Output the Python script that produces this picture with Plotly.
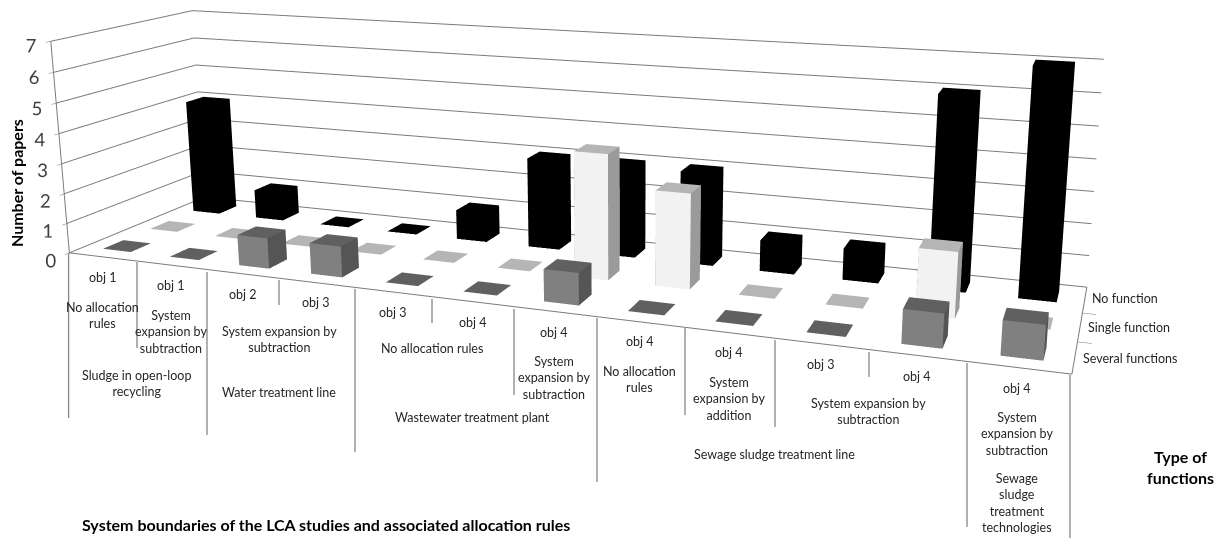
import plotly.graph_objects as go

categories = ["obj 1","obj 1","obj 2","obj 3","obj 3","obj 4","obj 4","obj 4","obj 4","obj 3","obj 4","obj 4"]
allocation_rules = ["No allocation<br>rules","System<br>expansion by<br>subtraction","System expansion by<br>subtraction","No allocation rules",
                    "System<br>expansion by<br>subtraction","No allocation<br>rules","System<br>expansion by<br>addition",
                    "System expansion by<br>subtraction","System<br>expansion by<br>subtraction"]
boundaries = ["Sludge in open-loop<br>recycling","Water treatment line","Wastewater treatment plant","Sewage sludge treatment line",
              "Sewage<br>sludge<br>treatment<br>technologies"]
series_names = ["Several functions","Single function","No function"]
z_ticks = [0,1,2,3,4,5,6,7]
several = [0,0,1,1,0,0,1,0,0,0,1,1]
single  = [0,0,0,0,0,0,4,3,0,0,2,0]
none_f  = [4,1,0,0,1,3,3,3,1,1,6,7]

W,HF,OFF,S=1206,1240,8,478
def yp(py): return 1-(py-OFF+S)/HF
def xp(px): return (px-OFF)/W

BW,BD=0.42,0.42
def add_bars(fig,vals,yc,front,top,side):
    xs,ys,zs,I,J,K,fc=[],[],[],[],[],[],[]
    for i,v in enumerate(vals):
        x0,x1=i+.5-BW/2,i+.5+BW/2
        y0,y1=yc-BD/2,yc+BD/2
        z1=max(v,0.01)
        n=len(xs)
        for zz in (0,z1):
            for xx,yy in ((x0,y0),(x1,y0),(x1,y1),(x0,y1)):
                xs.append(xx);ys.append(yy);zs.append(zz)
        quads=[((0,1,5,4),front),((1,2,6,5),side),((4,5,6,7),top),((3,0,4,7),side),((2,3,7,6),front)]
        for (a,b,c,d),col in quads:
            if v==0 and col is not top: continue
            I+=[n+a,n+a];J+=[n+b,n+c];K+=[n+c,n+d];fc+=[col,col]
    fig.add_trace(go.Mesh3d(x=xs,y=ys,z=zs,i=I,j=J,k=K,facecolor=fc,flatshading=True,hoverinfo="skip",
        lighting=dict(ambient=1,diffuse=0,specular=0,fresnel=0,roughness=1),showscale=False))

fig=go.Figure()
add_bars(fig,none_f,2.5,"#000000","#000000","#000000")
add_bars(fig,single,1.5,"#f2f2f2","#b5b5b5","#9a9a9a")
add_bars(fig,several,0.5,"#808080","#606060","#555555")

FONT="Lato"
def label(t,x,y,size=12.5,color="#262626",bold=False,angle=0,anchor="center"):
    return dict(text=("<b>%s</b>"%t) if bold else t,xref="paper",yref="paper",x=xp(x),y=yp(y),showarrow=False,
                xanchor=anchor,yanchor="middle",textangle=angle,font=dict(family=FONT,size=size,color=color))
ann=[]
cat_xy=[(102.5,277),(171,285),(242.5,294),(316,302),(393,312),(472.5,322),(554,332),(640,342),(729,352),(821,364),(917,376),(1017,388)]
for t,(x,y) in zip(categories,cat_xy): ann.append(label(t,x,y))
rule_xy=[(102.5,315),(171,332),(279,339),(432,348),(554,378),(640,380),(729,399),(868,411),(1017,434)]
for t,(x,y) in zip(allocation_rules,rule_xy): ann.append(label(t,x,y))
bound_xy=[(136.5,383),(279,392),(472,417),(774,454),(1017,503)]
for t,(x,y) in zip(boundaries,bound_xy): ann.append(label(t,x,y))
ser_xy=[(1130,358),(1129,327),(1125,298)]
for t,(x,y) in zip(series_names,ser_xy): ann.append(label(t,x,y))
ann.append(label("Number of papers",16,183,16,"#000",True,-90))
ann.append(label("System boundaries of the LCA studies and associated allocation rules",80,524,16,"#000",True,0,"left"))
ann.append(label("Type of<br>functions",1180,467,16,"#000",True))

seps=[(68.6,253,418),(137,262,348),(207,272,435),(279,280,305),(355,289,452),(432,299,323),(514,309,395),(597,318,482),
      (685,328,415),(775,340,427),(869,352,377),(967,363,527),(1070,375,538)]
shapes=[dict(type="line",xref="paper",yref="paper",x0=xp(x),x1=xp(x),y0=yp(a),y1=yp(b),line=dict(color="#868686",width=1.3)) for x,a,b in seps]

axc="#7a7a7a"
common=dict(showbackground=False,zeroline=False,showspikes=False,title="",showline=True,linecolor=axc,linewidth=2)
fig.update_layout(width=W,height=HF,margin=dict(l=0,r=0,t=0,b=0),paper_bgcolor="white",showlegend=False,
 annotations=ann,shapes=shapes,
 scene=dict(domain=dict(x=[0,1],y=[0,1]),dragmode="orbit",aspectmode="manual",aspectratio=dict(x=2.5,y=0.5952,z=0.5553),
  camera=dict(eye=dict(x=1.35,y=-3.318,z=0.866),center=dict(x=0.076,y=0.177,z=-0.004),up=dict(x=0.002,y=0,z=1)),
  xaxis=dict(range=[0,12],showgrid=False,showticklabels=False,ticks="",**common),
  yaxis=dict(range=[0,3],tickvals=[1,2],showticklabels=False,ticks="outside",ticklen=6,tickcolor=axc,showgrid=False,**common),
  zaxis=dict(range=[0,7],tickvals=z_ticks,tickangle=0,gridcolor=axc,gridwidth=2,ticks="outside",ticklen=5,tickcolor=axc,
             tickfont=dict(family=FONT,size=15,color="#404040"),**common)))
fig.write_html("out.html",post_script="document.querySelector('.plotly-graph-div').style.marginTop='-%dpx';"%S)
